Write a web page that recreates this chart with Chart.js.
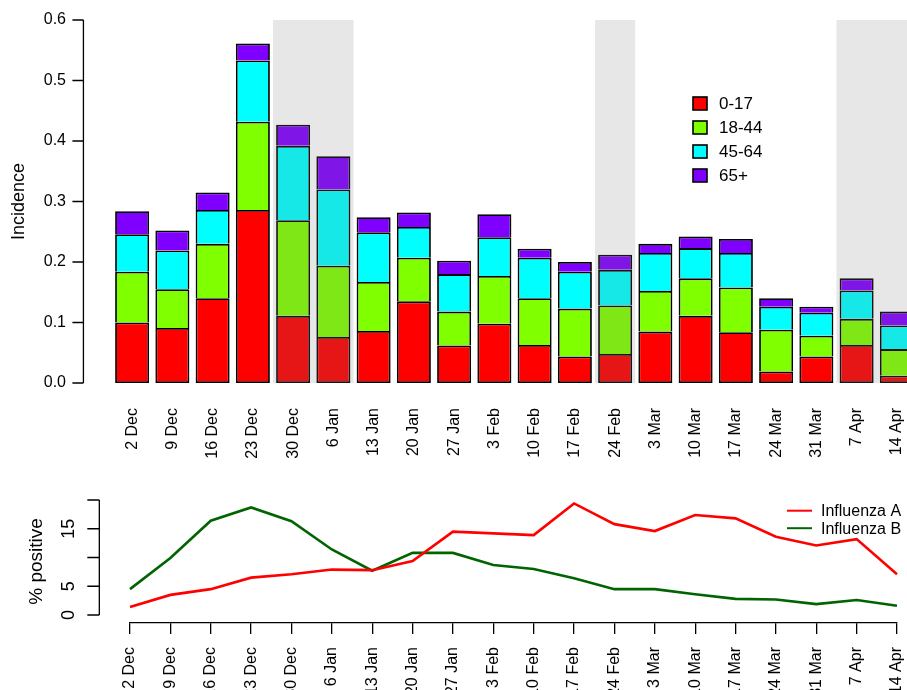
<!DOCTYPE html>
<html>
<head>
<meta charset="utf-8">
<script src="https://cdn.jsdelivr.net/npm/chart.js@4.4.1/dist/chart.umd.min.js"></script>
<style>
html, body { margin: 0; padding: 0; background: #fff; overflow: hidden; width: 907px; height: 690px; }
#incidenceChart { position: absolute; left: 0; top: 0; }
#positiveChart { position: absolute; left: 0; top: 490px; }
</style>
</head>
<body>
<canvas id="incidenceChart" width="930" height="490"></canvas>
<canvas id="positiveChart" width="907" height="200"></canvas>
<script>
let week_labels = ['2 Dec', '9 Dec', '16 Dec', '23 Dec', '30 Dec', '6 Jan', '13 Jan', '20 Jan', '27 Jan', '3 Feb',
    '10 Feb', '17 Feb', '24 Feb', '3 Mar', '10 Mar', '17 Mar', '24 Mar', '31 Mar', '7 Apr', '14 Apr'];

// incidence by age group (stacked)
let age_0_17 = [0.100, 0.091, 0.140, 0.286, 0.111, 0.076, 0.086, 0.135, 0.062, 0.098, 0.063, 0.044, 0.048, 0.085, 0.111, 0.084, 0.019, 0.044, 0.063, 0.012];
let age_18_44 = [0.084, 0.064, 0.090, 0.146, 0.158, 0.118, 0.081, 0.072, 0.056, 0.079, 0.077, 0.079, 0.080, 0.067, 0.062, 0.074, 0.069, 0.034, 0.043, 0.044];
let age_45_64 = [0.062, 0.064, 0.056, 0.101, 0.123, 0.126, 0.082, 0.051, 0.062, 0.064, 0.067, 0.061, 0.059, 0.063, 0.050, 0.057, 0.038, 0.038, 0.047, 0.039];
let age_65_plus = [0.038, 0.033, 0.029, 0.028, 0.035, 0.055, 0.025, 0.024, 0.022, 0.038, 0.015, 0.016, 0.025, 0.015, 0.019, 0.023, 0.014, 0.010, 0.020, 0.023];

// % positive
let flu_a = [1.4, 3.5, 4.5, 6.5, 7.1, 7.9, 7.8, 9.4, 14.5, 14.2, 13.9, 19.4, 15.8, 14.6, 17.4, 16.8, 13.6, 12.1, 13.2, 7.1];
let flu_b = [4.5, 9.9, 16.4, 18.7, 16.3, 11.4, 7.7, 10.8, 10.8, 8.7, 8.0, 6.4, 4.5, 4.5, 3.6, 2.8, 2.7, 1.9, 2.6, 1.6];

let shaded_weeks = [['30 Dec', '6 Jan'], ['24 Feb', '24 Feb'], ['7 Apr', '14 Apr']];

let incidence_ticks = [0, 0.1, 0.2, 0.3, 0.4, 0.5, 0.6];
let positive_ticks = [0, 5, 10, 15, 20];
let positive_tick_labels = ['0', '5', '', '15', ''];

Chart.defaults.font.family = "'Liberation Sans', Arial, sans-serif";
Chart.defaults.color = '#000';

// grey bands over holiday weeks + R style y axis + legend
const incidenceExtras = {
    id: 'incidenceExtras',
    afterDatasetsDraw(chart) {
        const ctx = chart.ctx;
        const xs = chart.scales.x, ys = chart.scales.y;
        const step = xs.getPixelForValue(1) - xs.getPixelForValue(0);
        const top = ys.getPixelForValue(0.6), bottom = ys.getPixelForValue(0);
        ctx.save();
        ctx.fillStyle = 'rgba(120,120,120,0.18)';
        shaded_weeks.forEach(w => {
            const a = xs.getPixelForValue(week_labels.indexOf(w[0])) - step / 2;
            const b = xs.getPixelForValue(week_labels.indexOf(w[1])) + step / 2;
            ctx.fillRect(a, top, b - a, bottom - top);
        });

        // y axis line
        const axisX = xs.getPixelForValue(0) - 1.21 * step;
        ctx.strokeStyle = '#000';
        ctx.lineWidth = 1.3;
        ctx.beginPath();
        ctx.moveTo(axisX, top);
        ctx.lineTo(axisX, bottom);
        incidence_ticks.forEach(t => {
            const y = ys.getPixelForValue(t);
            ctx.moveTo(axisX, y);
            ctx.lineTo(axisX - 11, y);
        });
        ctx.stroke();

        // legend
        ctx.font = "17px 'Liberation Sans', Arial, sans-serif";
        ctx.textBaseline = 'middle';
        ctx.textAlign = 'left';
        chart.data.datasets.forEach((ds, i) => {
            const cy = 103.5 + i * 24;
            ctx.fillStyle = ds.backgroundColor;
            ctx.fillRect(693, cy - 6.5, 14, 13);
            ctx.lineWidth = 1.6;
            ctx.strokeRect(693, cy - 6.5, 14, 13);
            ctx.fillStyle = '#000';
            ctx.fillText(ds.label, 719, cy + 1);
        });
        ctx.restore();
    }
};

const positiveExtras = {
    id: 'positiveExtras',
    afterDraw(chart) {
        const ctx = chart.ctx;
        const xs = chart.scales.x, ys = chart.scales.y;
        const step = xs.getPixelForValue(1) - xs.getPixelForValue(0);
        const axisX = xs.getPixelForValue(0) - 0.76 * step;
        ctx.save();
        ctx.strokeStyle = '#000';
        ctx.lineWidth = 1.3;
        ctx.beginPath();
        ctx.moveTo(axisX, ys.getPixelForValue(0));
        ctx.lineTo(axisX, ys.getPixelForValue(20));
        positive_ticks.forEach(t => {
            const y = ys.getPixelForValue(t);
            ctx.moveTo(axisX, y);
            ctx.lineTo(axisX - 12, y);
        });
        ctx.stroke();

        ctx.fillStyle = '#000';
        ctx.font = "18px 'Liberation Sans', Arial, sans-serif";
        ctx.textAlign = 'center';
        ctx.textBaseline = 'middle';
        positive_ticks.forEach((t, i) => {
            if (!positive_tick_labels[i]) return;
            ctx.save();
            ctx.translate(axisX - 30, ys.getPixelForValue(t));
            ctx.rotate(-Math.PI / 2);
            ctx.fillText(positive_tick_labels[i], 0, 0);
            ctx.restore();
        });

        // legend
        ctx.font = "16px 'Liberation Sans', Arial, sans-serif";
        ctx.textAlign = 'left';
        chart.data.datasets.forEach((ds, i) => {
            const cy = 20.7 + i * 17.5;
            ctx.strokeStyle = ds.borderColor;
            ctx.lineWidth = 2;
            ctx.beginPath();
            ctx.moveTo(787, cy);
            ctx.lineTo(812, cy);
            ctx.stroke();
            ctx.fillText(ds.label, 821, cy + 1);
        });
        ctx.restore();
    }
};

function barSet(label, data, color, skip) {
    return {
        label: label,
        data: data,
        backgroundColor: color,
        borderColor: '#000',
        borderWidth: 1.8,
        borderSkipped: skip,
        barPercentage: 0.845,
        categoryPercentage: 1
    };
}

const ctx1 = document.getElementById('incidenceChart').getContext('2d');
const incidenceChart = new Chart(ctx1, {
    type: 'bar',
    data: {
        labels: week_labels,
        datasets: [
            barSet('0-17', age_0_17, '#ff0000', false),
            barSet('18-44', age_18_44, '#80ff00', 'start'),
            barSet('45-64', age_45_64, '#00ffff', 'start'),
            barSet('65+', age_65_plus, '#8000ff', 'start')
        ]
    },
    options: {
        responsive: false,
        animation: false,
        layout: { padding: { top: 20, right: 13, left: 0, bottom: 0 } },
        plugins: { legend: { display: false }, tooltip: { enabled: false } },
        scales: {
            x: {
                stacked: true,
                grid: { display: false, drawTicks: false },
                border: { display: false },
                ticks: { autoSkip: false, maxRotation: 90, minRotation: 90, padding: 25, font: { size: 16 } },
                afterFit: s => { s.height = 107; s.paddingLeft = 0; s.paddingRight = 0; }
            },
            y: {
                stacked: true,
                min: 0,
                max: 0.6,
                grid: { display: false, drawTicks: false },
                border: { display: false },
                ticks: { stepSize: 0.1, padding: 46, font: { size: 16 }, callback: v => v.toFixed(1) },
                title: { display: true, text: 'Incidence', font: { size: 18 }, padding: { top: 8, bottom: 0 } },
                afterFit: s => { s.width = 112; s.paddingTop = 0; s.paddingBottom = 0; }
            }
        }
    },
    plugins: [incidenceExtras]
});

const ctx2 = document.getElementById('positiveChart').getContext('2d');
const positiveChart = new Chart(ctx2, {
    type: 'line',
    data: {
        labels: week_labels,
        datasets: [
            { label: 'Influenza A', data: flu_a, borderColor: '#ff0000', borderWidth: 2.6, pointRadius: 0, lineTension: 0, fill: false },
            { label: 'Influenza B', data: flu_b, borderColor: '#006400', borderWidth: 2.6, pointRadius: 0, lineTension: 0, fill: false }
        ]
    },
    options: {
        responsive: false,
        animation: false,
        layout: { padding: { top: 10, right: 10, left: 0, bottom: 0 } },
        plugins: { legend: { display: false }, tooltip: { enabled: false } },
        scales: {
            x: {
                offset: false,
                grid: { display: true, drawOnChartArea: false, drawTicks: true, tickLength: 11, color: '#000', lineWidth: 1.3 },
                border: { display: true, color: '#000', width: 1.3 },
                ticks: { autoSkip: false, maxRotation: 90, minRotation: 90, padding: 13, font: { size: 16 } },
                afterFit: s => { s.height = 67; s.paddingLeft = 0; s.paddingRight = 0; }
            },
            y: {
                min: -1.39,
                max: 20,
                grid: { display: false, drawTicks: false },
                border: { display: false },
                ticks: { display: false },
                title: { display: true, text: '% positive', font: { size: 19 }, padding: { top: 25, bottom: 0 } },
                afterFit: s => { s.width = 130; }
            }
        }
    },
    plugins: [positiveExtras]
});
</script>
</body>
</html>
